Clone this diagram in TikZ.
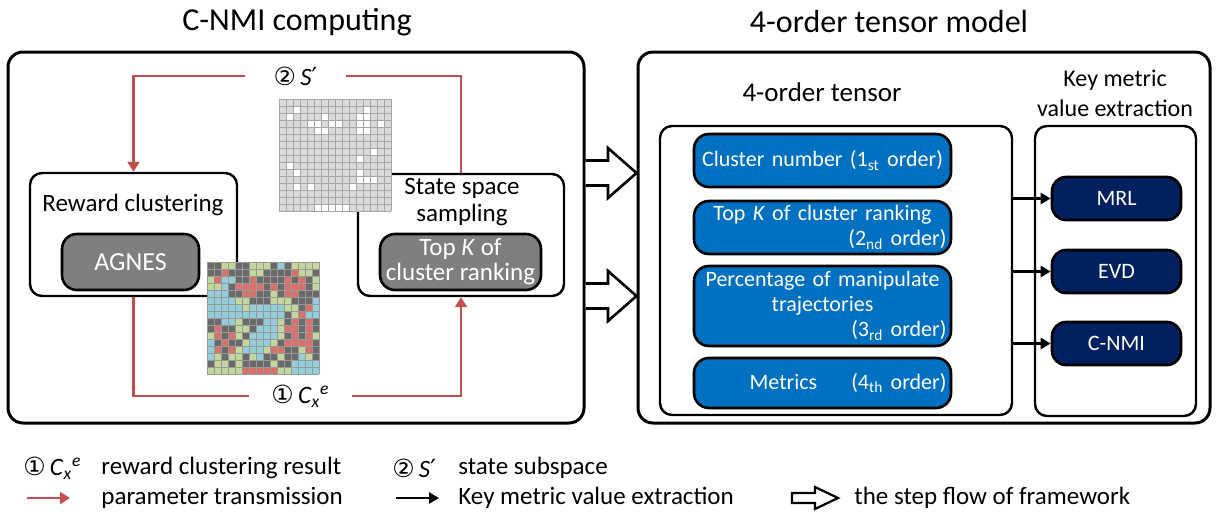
\documentclass[tikz,border=0pt]{standalone}
\usepackage{amsmath}
\usepackage{fontspec}
\setmainfont{Carlito}
\newfontfamily\symfont{DejaVu Sans}
\usetikzlibrary{arrows.meta,positioning}

\definecolor{paramred}{HTML}{C0504D}
\definecolor{tensorblue}{HTML}{0070C0}
\definecolor{metricnavy}{HTML}{002060}
\definecolor{agnesgrey}{HTML}{7F7F7F}
\definecolor{cellG}{HTML}{6A6A6A}
\definecolor{cellR}{HTML}{D9706A}
\definecolor{cellY}{HTML}{C4D79B}
\definecolor{cellB}{HTML}{92CDDC}
\definecolor{statecell}{HTML}{D9D9D9}

\newcommand{\Cxe}{\textit{C}$_{\textit{x}}{}^{\textit{e}}$}

\tikzset{
  heading/.style={inner sep=0pt, font=\fontsize{16}{19}\selectfont},
  txt/.style={inner sep=0pt, font=\fontsize{12.5}{13.5}\selectfont},
  outerframe/.style={draw, line width=1.5pt, rounded corners=7.5pt, inner sep=0pt,
    minimum height=185.5pt},
  stage/.style={draw, line width=1.2pt, rounded corners=6pt, inner sep=0pt},
  method/.style={draw, line width=1.3pt, rounded corners=7.5pt, fill=agnesgrey,
    text=white, inner sep=0pt, minimum height=28pt, font=\fontsize{12.5}{12.5}\selectfont},
  orderbox/.style={draw, line width=1.3pt, rounded corners=7.5pt, fill=tensorblue,
    text=white, inner sep=0pt, minimum width=128.5pt, text width=124pt, align=center,
    font=\fontsize{11}{12.5}\selectfont},
  metricbox/.style={draw, line width=1.3pt, rounded corners=7pt, fill=metricnavy,
    text=white, inner sep=0pt, minimum width=64.5pt, minimum height=21.5pt,
    font=\fontsize{11}{13}\selectfont},
  paramline/.style={draw=paramred, line width=1.2pt},
  paramtip/.style={-{Triangle[length=5pt,width=6pt]}},
  extractline/.style={line width=1.2pt, -{Triangle[length=5pt,width=5.5pt]}},
  flowarrow/.style={draw, line width=1.3pt, fill=white, line join=miter},
  cellline/.style={draw=black!40, line width=0.3pt},
  stateline/.style={draw=black!35, line width=0.3pt}
}

\begin{document}
\begin{tikzpicture}[x=0.5pt,y=-0.5pt]
  \useasboundingbox (0,0) rectangle (1217,514);

  % titles
  \node[heading] (nmititle) at (297,22) {C-NMI computing};
  \node[heading] (tensortitle) at (889,22) {4-order tensor model};

  % outer frames
  \node[outerframe, minimum width=288pt] (nmiframe) at (296,237.5) {};
  \node[outerframe, minimum width=286pt] (tensorframe) at (924,237.5) {};

  % C-NMI computing
  \node[stage, minimum width=103.5pt, minimum height=61.5pt] (reward) at (133.5,234.5) {};
  \node[txt] (rewardlbl) at (133,205) {Reward clustering};
  \node[method, minimum width=68.5pt, font=\fontsize{13}{13}\selectfont] (agnes) at (130.5,262) {AGNES};
  \node[stage, minimum width=103pt, minimum height=61pt] (sampling) at (461,235) {};
  \node[txt, align=center] (samplinglbl) at (462,202) {State space\\sampling};
  \node[method, minimum width=80.5pt, align=center] (topk) at (460.5,262) {Top \textit{K} of\\cluster ranking};

  \node[txt, minimum width=50.5pt] (subspace) at (295.5,76) {{\symfont ②}\,\textit{S}{\symfont ′}};
  \node[txt, minimum width=51.5pt] (clusres) at (300.5,396) {{\symfont ①}\,\Cxe};

  \draw[paramline, paramtip] (subspace.west) -| (reward.north);
  \draw[paramline] (subspace.east) -| (sampling.north);
  \draw[paramline] (reward.south) |- (clusres.west);
  \draw[paramline, paramtip] (clusres.east) -| (sampling.south);

  % reward clustering result
  \begin{scope}[shift={(207,262)}]
    \foreach \row [count=\r from 0] in {
      {G,G,Y,Y,G,G,Y,Y,Y,G,B,G,Y,Y,Y,Y},
      {G,G,R,G,G,G,Y,Y,G,G,G,G,R,Y,Y,G},
      {Y,R,B,B,G,G,R,G,G,G,G,R,G,R,G,Y},
      {Y,Y,B,G,R,R,R,R,G,R,G,R,R,R,G,Y},
      {B,B,B,G,G,R,R,G,G,Y,G,R,R,G,G,G},
      {B,B,B,B,Y,Y,G,G,G,Y,Y,Y,G,G,G,B},
      {B,B,B,B,B,Y,B,B,B,B,B,Y,Y,G,R,B},
      {B,B,B,B,B,B,B,B,B,B,B,G,Y,R,B,B},
      {G,G,B,B,Y,G,G,G,B,B,Y,G,R,G,R,G},
      {G,R,G,G,Y,Y,G,B,B,B,Y,R,R,G,R,G},
      {Y,R,G,R,Y,G,B,B,B,B,Y,G,R,G,R,Y},
      {B,G,R,G,G,Y,B,B,B,Y,G,R,R,R,R,G},
      {B,R,G,R,Y,B,B,B,Y,R,R,G,G,Y,R,G},
      {B,Y,G,Y,Y,G,Y,B,G,G,Y,G,G,B,Y,G},
      {G,Y,Y,G,Y,G,G,G,G,Y,G,G,B,B,B,B},
      {Y,Y,Y,Y,Y,R,R,R,R,R,Y,Y,B,B,B,B}}
      \foreach \c [count=\k from 0] in \row
        \fill[fill=cell\c] (7*\k,7*\r) rectangle ++(7,7);
    \foreach \i in {0,...,16} {
      \draw[cellline] (7*\i,0) -- (7*\i,112);
      \draw[cellline] (0,7*\i) -- (112,7*\i);
    }
  \end{scope}

  % state subspace
  \begin{scope}[shift={(279,99)}]
    \fill[statecell] (0,0) rectangle (112,112);
    \foreach \cr/\cc in {1/2,1/12,2/1,2/6,2/11,2/12,3/4,3/5,3/7,3/8,3/11,3/12,3/14,
        4/5,4/6,4/11,4/12,7/13,8/11,9/1,10/2,10/11,11/11,11/12,11/13,
        12/2,12/4,12/10,15/5,15/6,15/7,15/8,15/9}
      \fill[white] (7*\cc,7*\cr) rectangle ++(7,7);
    \foreach \i in {0,...,16} {
      \draw[stateline] (7*\i,0) -- (7*\i,112);
      \draw[stateline] (0,7*\i) -- (112,7*\i);
    }
  \end{scope}

  % step flow
  \draw[flowarrow] (nmiframe.east |- 0,160.5) -- (608,160.5) -- (608,148)
    -- (tensorframe.west |- 0,173) -- (608,198) -- (608,185.5) -- (nmiframe.east |- 0,185.5);
  \draw[flowarrow] (nmiframe.east |- 0,283.5) -- (608,283.5) -- (608,271)
    -- (tensorframe.west |- 0,296) -- (608,321) -- (608,308.5) -- (nmiframe.east |- 0,308.5);

  % 4-order tensor
  \node[txt, font=\fontsize{13.5}{15}\selectfont] (tensorlbl) at (822,92) {4-order tensor};
  \node[stage, minimum width=176pt, minimum height=144.5pt] (tensor) at (836,270.5) {};
  \node[orderbox, minimum height=26.5pt] (first) at (822.5,160.5) {Cluster number (1\textsubscript{st} order)};
  \node[orderbox, minimum height=26.5pt] (second) at (822.5,227.5) {Top \textit{K} of cluster ranking\\\hspace*{\fill}(2\textsubscript{nd} order)};
  \node[orderbox, minimum height=40pt] (third) at (822.5,306) {Percentage of manipulate\\trajectories\\\hspace*{\fill}(3\textsubscript{rd} order)};
  \node[orderbox, minimum height=25pt] (fourth) at (822.5,383) {\hspace*{\fill}Metrics\hspace{17pt}(4\textsubscript{th} order)};

  % key metric value extraction
  \node[txt, align=center, font=\fontsize{12}{15}\selectfont] (keylbl) at (1115,93) {Key metric\\value extraction};
  \node[stage, minimum width=80.5pt, minimum height=145pt] (keybox) at (1115.5,271) {};
  \node[metricbox] (mrl) at (1116.5,198.5) {MRL};
  \node[metricbox] (evd) at (1116.5,271.5) {EVD};
  \node[metricbox] (cnmi) at (1116.5,343.5) {C-NMI};
  \foreach \m in {mrl,evd,cnmi}
    \draw[extractline] (tensor.east |- \m.west) -- (\m.west);

  % legend
  \node[txt, anchor=west] (legclus) at (23,468) {{\symfont ①}\,\Cxe};
  \node[txt, anchor=west] (legclustxt) at (101,468) {reward clustering result};
  \node[txt, anchor=west] (legsub) at (392,468) {{\symfont ②}\,\textit{S}{\symfont ′}};
  \node[txt, anchor=west] (legsubtxt) at (458,468) {state subspace};
  \node[txt, anchor=west] (legparam) at (101,498) {parameter transmission};
  \node[txt, anchor=west] (legextract) at (458,498) {Key metric value extraction};
  \node[txt, anchor=west] (legflow) at (854,498) {the step flow of framework};
  \coordinate (legparamA) at (27,498);
  \coordinate (legparamB) at (70,498);
  \draw[paramline, paramtip] (legparamA) -- (legparamB);
  \coordinate (legextractA) at (396,498);
  \coordinate (legextractB) at (439,498);
  \draw[extractline] (legextractA) -- (legextractB);
  \draw[flowarrow, line width=1.1pt] (792,493) -- (815,493) -- (815,487) -- (838,498)
    -- (815,509) -- (815,503) -- (792,503) -- cycle;
\end{tikzpicture}
\end{document}
